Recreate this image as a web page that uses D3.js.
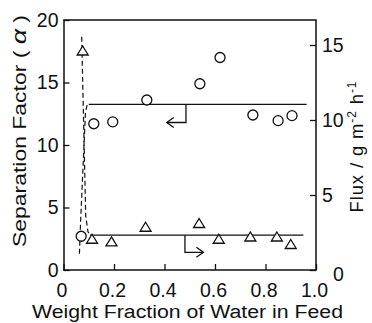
<!DOCTYPE html>
<html>
<head>
<meta charset="utf-8">
<script src="https://cdn.jsdelivr.net/npm/d3@7"></script>
<style>
  body { margin: 0; background: #fff; }
  text { font-family: "Liberation Sans", Arial, sans-serif; fill: #111; }
</style>
</head>
<body>
<div id="chart"></div>
<script>
// separation factor (circles, left axis)
const sepX = [0.07, 0.12, 0.195, 0.33, 0.54, 0.62, 0.75, 0.85, 0.905];
const sepY = [2.7, 11.7, 11.85, 13.6, 14.9, 17.0, 12.4, 11.95, 12.35];
// flux (triangles, right axis)
const fluxX = [0.076, 0.113, 0.19, 0.325, 0.537, 0.615, 0.74, 0.845, 0.9];
const fluxY = [14.6, 2.05, 1.87, 2.85, 3.1, 2.05, 2.2, 2.2, 1.7];
// trend lines drawn by hand in the figure
const sepDash = [[0.063, 1.3], [0.068, 4], [0.087, 12.6], [0.093, 13.15], [0.1, 13.25]];
const sepFlat = [[0.1, 13.25], [0.963, 13.25]];
const fluxDash = [[0.072, 15.55], [0.088, 3.6], [0.097, 2.55], [0.105, 2.33]];
const fluxFlat = [[0.105, 2.33], [0.95, 2.33]];
// arrows pointing to each axis
const sepArrow = [[0.485, 13.25], [0.485, 11.8], [0.409, 11.8]];
const fluxArrow = [[0.481, 2.33], [0.481, 1.18], [0.554, 1.18]];

const xTicks = [0, 0.2, 0.4, 0.6, 0.8, 1.0];
const leftTicks = [0, 5, 10, 15, 20];
const rightTicks = [0, 5, 10, 15];

const width = 372, height = 323,
    margin = {top: 20, bottom: 53, left: 63.5, right: 56};

const x = d3.scaleLinear().domain([0, 1]).range([margin.left, width - margin.right]);
const yL = d3.scaleLinear().domain([0, 20]).range([height - margin.bottom, margin.top]);
const yR = d3.scaleLinear().domain([0, 50 / 3]).range([height - margin.bottom, margin.top]);

const svg = d3.select("#chart").append("svg")
    .attr("width", width)
    .attr("height", height);

// frame
svg.append("rect")
    .attr("x", x(0) + 0.5)
    .attr("y", yL(20))
    .attr("width", x(1) - x(0) - 0.5)
    .attr("height", yL(0) - yL(20))
    .attr("fill", "none")
    .attr("stroke", "#111")
    .attr("stroke-width", 1.5);

const fs = 19.5;

svg.append("g")
    .attr("transform", `translate(0,${yL(0)})`)
    .call(d3.axisBottom(x).tickValues(xTicks).tickSize(-6).tickPadding(13)
        .tickFormat(d => d === 0 ? "0" : d3.format(".1f")(d)))
    .call(g => g.select(".domain").remove())
    .call(g => g.selectAll("line").attr("stroke", "#111").attr("stroke-width", 1.3))
    .call(g => g.selectAll("text").attr("font-size", fs).attr("fill", "#111").attr("dx", -2));

svg.append("g")
    .attr("transform", `translate(${x(0)},0)`)
    .call(d3.axisLeft(yL).tickValues(leftTicks).tickSize(-6).tickPadding(5))
    .call(g => g.select(".domain").remove())
    .call(g => g.selectAll("line").attr("stroke", "#111").attr("stroke-width", 1.3))
    .call(g => g.selectAll("text").attr("font-size", fs).attr("fill", "#111"));

svg.append("g")
    .attr("transform", `translate(${x(1)},0)`)
    .call(d3.axisRight(yR).tickValues(rightTicks).tickSize(-6).tickPadding(6))
    .call(g => g.select(".domain").remove())
    .call(g => g.selectAll("line").attr("stroke", "#111").attr("stroke-width", 1.3))
    .call(g => g.selectAll("text").attr("font-size", fs).attr("fill", "#111")
        .attr("dx", d => d === 0 ? 11 : 0)
        .attr("dy", d => d === 0 ? "0.55em" : "0.32em"));

// lines
const lineL = d3.line().x(d => x(d[0])).y(d => yL(d[1]));
const lineR = d3.line().x(d => x(d[0])).y(d => yR(d[1]));

svg.append("path").attr("d", lineL(sepDash))
    .attr("fill", "none").attr("stroke", "#111").attr("stroke-width", 1.2)
    .attr("stroke-dasharray", "5,3");
svg.append("path").attr("d", lineR(fluxDash))
    .attr("fill", "none").attr("stroke", "#111").attr("stroke-width", 1.2)
    .attr("stroke-dasharray", "5,3");
svg.append("path").attr("d", lineL(sepFlat))
    .attr("fill", "none").attr("stroke", "#111").attr("stroke-width", 1.3);
svg.append("path").attr("d", lineR(fluxFlat))
    .attr("fill", "none").attr("stroke", "#111").attr("stroke-width", 1.3);

// arrows
function arrow(pts, yS) {
    const p = pts.map(d => [x(d[0]), yS(d[1])]);
    svg.append("path").attr("d", d3.line()(p))
        .attr("fill", "none").attr("stroke", "#111").attr("stroke-width", 1.3);
    const [ex, ey] = p[p.length - 1];
    const dir = Math.sign(ex - p[p.length - 2][0]);
    svg.append("path")
        .attr("d", `M${ex - dir * 7},${ey - 5}L${ex},${ey}L${ex - dir * 7},${ey + 5}`)
        .attr("fill", "none").attr("stroke", "#111").attr("stroke-width", 1.3);
}
arrow(sepArrow, yL);
arrow(fluxArrow, yR);

// markers
svg.selectAll("circle.sep")
    .data(sepX.map((d, i) => [d, sepY[i]]))
    .join("circle")
    .attr("class", "sep")
    .attr("cx", d => x(d[0]))
    .attr("cy", d => yL(d[1]))
    .attr("r", 5)
    .attr("fill", "#fff")
    .attr("stroke", "#111")
    .attr("stroke-width", 1.3);

svg.selectAll("path.flux")
    .data(fluxX.map((d, i) => [d, fluxY[i]]))
    .join("path")
    .attr("class", "flux")
    .attr("transform", d => `translate(${x(d[0])},${yR(d[1])})`)
    .attr("d", "M0,-5L5.5,4L-5.5,4Z")
    .attr("fill", "#fff")
    .attr("stroke", "#111")
    .attr("stroke-width", 1.3);

// titles
svg.append("text")
    .attr("x", 187.5)
    .attr("y", 318)
    .attr("text-anchor", "middle")
    .attr("font-size", 18)
    .attr("textLength", 311)
    .attr("lengthAdjust", "spacingAndGlyphs")
    .text("Weight Fraction of Water in Feed");

const lt = svg.append("text")
    .attr("transform", "translate(26,131) rotate(-90)")
    .attr("text-anchor", "middle")
    .attr("font-size", 18)
    .attr("textLength", 232)
    .attr("lengthAdjust", "spacingAndGlyphs");
lt.append("tspan").text("Separation Factor ( ");
lt.append("tspan").attr("font-style", "italic").attr("font-size", 21).text("α");
lt.append("tspan").text(" )");

const rt = svg.append("text")
    .attr("transform", "translate(363,147) rotate(-90)")
    .attr("text-anchor", "middle")
    .attr("font-size", 18.5)
    .attr("textLength", 131)
    .attr("lengthAdjust", "spacing");
rt.append("tspan").text("Flux  /  g m");
rt.append("tspan").attr("font-size", 12).attr("dy", -7).text("-2");
rt.append("tspan").attr("dy", 7).text(" h");
rt.append("tspan").attr("font-size", 12).attr("dy", -7).text("-1");
</script>
</body>
</html>
